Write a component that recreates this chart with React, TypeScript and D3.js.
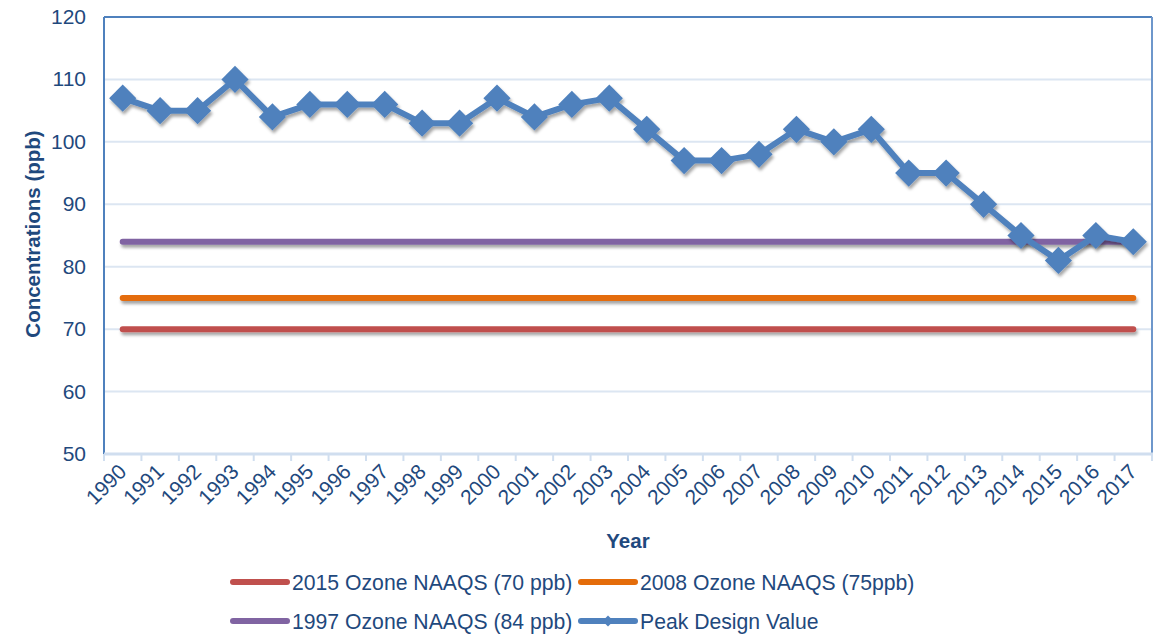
import React from "react";
import * as d3 from "d3";

const years = [
  "1990", "1991", "1992", "1993", "1994", "1995", "1996", "1997", "1998", "1999",
  "2000", "2001", "2002", "2003", "2004", "2005", "2006", "2007", "2008", "2009",
  "2010", "2011", "2012", "2013", "2014", "2015", "2016", "2017",
];
const peakValues = [
  107, 105, 105, 110, 104, 106, 106, 106, 103, 103,
  107, 104, 106, 107, 102, 97, 97, 98, 102, 100,
  102, 95, 95, 90, 85, 81, 85, 84,
];
const standards = [
  { label: "2015 Ozone NAAQS (70 ppb)", value: 70, color: "#C0504D" },
  { label: "2008 Ozone NAAQS (75ppb)", value: 75, color: "#E46C0A" },
  { label: "1997 Ozone NAAQS (84 ppb)", value: 84, color: "#8064A2" },
];
const yTicks = [50, 60, 70, 80, 90, 100, 110, 120];

const W = 1164;
const H = 635;
const left = 104;
const right = 1152;
const top = 17;
const bottom = 454;
const textColor = "#1F497D";
const blue = "#4F81BD";
const font = "'Liberation Sans', Arial, sans-serif";

export default function App() {
  const x = d3.scaleBand().domain(years).range([left, right]).padding(0);
  const y = d3.scaleLinear().domain([50, 120]).range([bottom, top]);
  const cx = (d: string) => (x(d) as number) + x.bandwidth() / 2;

  const line = d3
    .line<number>()
    .x((_, i) => cx(years[i]))
    .y((v) => y(v));

  const diamond = d3.symbol().type(d3.symbolSquare).size(370)() as string;

  const legendItems = [
    { ...standards[0], lx: 233, ly: 582 },
    { ...standards[1], lx: 581, ly: 582 },
    { ...standards[2], lx: 233, ly: 621 },
    { label: "Peak Design Value", color: blue, lx: 581, ly: 621, marker: true },
  ];

  return (
    <svg width={W} height={H} style={{ position: "absolute", left: 0, top: 0 }} fontFamily={font}>
      <defs>
        <filter id="shadow" filterUnits="userSpaceOnUse" x={0} y={0} width={W} height={H}>
          <feDropShadow dx="1.5" dy="3" stdDeviation="1.8" floodColor="#000" floodOpacity="0.35" />
        </filter>
      </defs>
      <rect width={W} height={H} fill="#fff" />

      {/* gridlines */}
      {yTicks.slice(1, -1).map((t) => (
        <line key={t} x1={left} x2={right} y1={y(t)} y2={y(t)} stroke="#DCE6F2" strokeWidth={2} />
      ))}

      {/* frame */}
      <line x1={left} x2={right} y1={top} y2={top} stroke={blue} strokeWidth={2} />
      <line x1={left} x2={left} y1={top} y2={bottom} stroke={blue} strokeWidth={2} />
      <line x1={right} x2={right} y1={top} y2={bottom} stroke="#6E97CB" strokeWidth={2} />

      {/* bottom axis */}
      <line x1={left} x2={right + 1} y1={bottom} y2={bottom} stroke="#D0DEEF" strokeWidth={3} />
      {years.concat(["end"]).map((d, i) => {
        const xx = i < years.length ? (x(d) as number) : right;
        return <line key={d} x1={xx} x2={xx} y1={bottom} y2={bottom + 7} stroke="#D0DEEF" strokeWidth={2} />;
      })}

      {/* y tick labels */}
      {yTicks.map((t) => (
        <text key={t} x={86} y={y(t) + 7} textAnchor="end" fontSize={21} fill={textColor}>
          {t}
        </text>
      ))}

      {/* x tick labels */}
      {years.map((d) => (
        <text
          key={d}
          transform={`translate(${cx(d) + 5},${473}) rotate(-45)`}
          textAnchor="end"
          fontSize={21}
          fill={textColor}
        >
          {d}
        </text>
      ))}

      {/* axis titles */}
      <text
        transform={`translate(40,${234}) rotate(-90)`}
        textAnchor="middle"
        fontSize={20.5}
        fontWeight="bold"
        fill={textColor}
      >
        Concentrations (ppb)
      </text>
      <text x={628} y={548} textAnchor="middle" fontSize={20.5} fontWeight="bold" fill={textColor}>
        Year
      </text>

      {/* standard lines */}
      {standards.map((s) => (
        <line
          key={s.label}
          x1={cx(years[0])}
          x2={cx(years[years.length - 1])}
          y1={y(s.value)}
          y2={y(s.value)}
          stroke={s.color}
          strokeWidth={6}
          strokeLinecap="round"
          filter="url(#shadow)"
        />
      ))}

      {/* peak design value */}
      <g filter="url(#shadow)">
        <path d={line(peakValues) as string} fill="none" stroke={blue} strokeWidth={6} strokeLinejoin="round" />
        {peakValues.map((v, i) => (
          <path
            key={years[i]}
            d={diamond}
            transform={`translate(${cx(years[i])},${y(v)}) rotate(45)`}
            fill={blue}
          />
        ))}
      </g>

      {/* legend */}
      {legendItems.map((it) => (
        <g key={it.label}>
          <line x1={it.lx} x2={it.lx + 54} y1={it.ly} y2={it.ly} stroke={it.color} strokeWidth={6} strokeLinecap="round" />
          {it.marker && (
            <path
              d={d3.symbol().type(d3.symbolSquare).size(60)() as string}
              transform={`translate(${it.lx + 27},${it.ly}) rotate(45)`}
              fill={it.color}
            />
          )}
          <text x={it.lx + 59} y={it.ly + 8} fontSize={21.2} fill={textColor}>
            {it.label}
          </text>
        </g>
      ))}
    </svg>
  );
}
